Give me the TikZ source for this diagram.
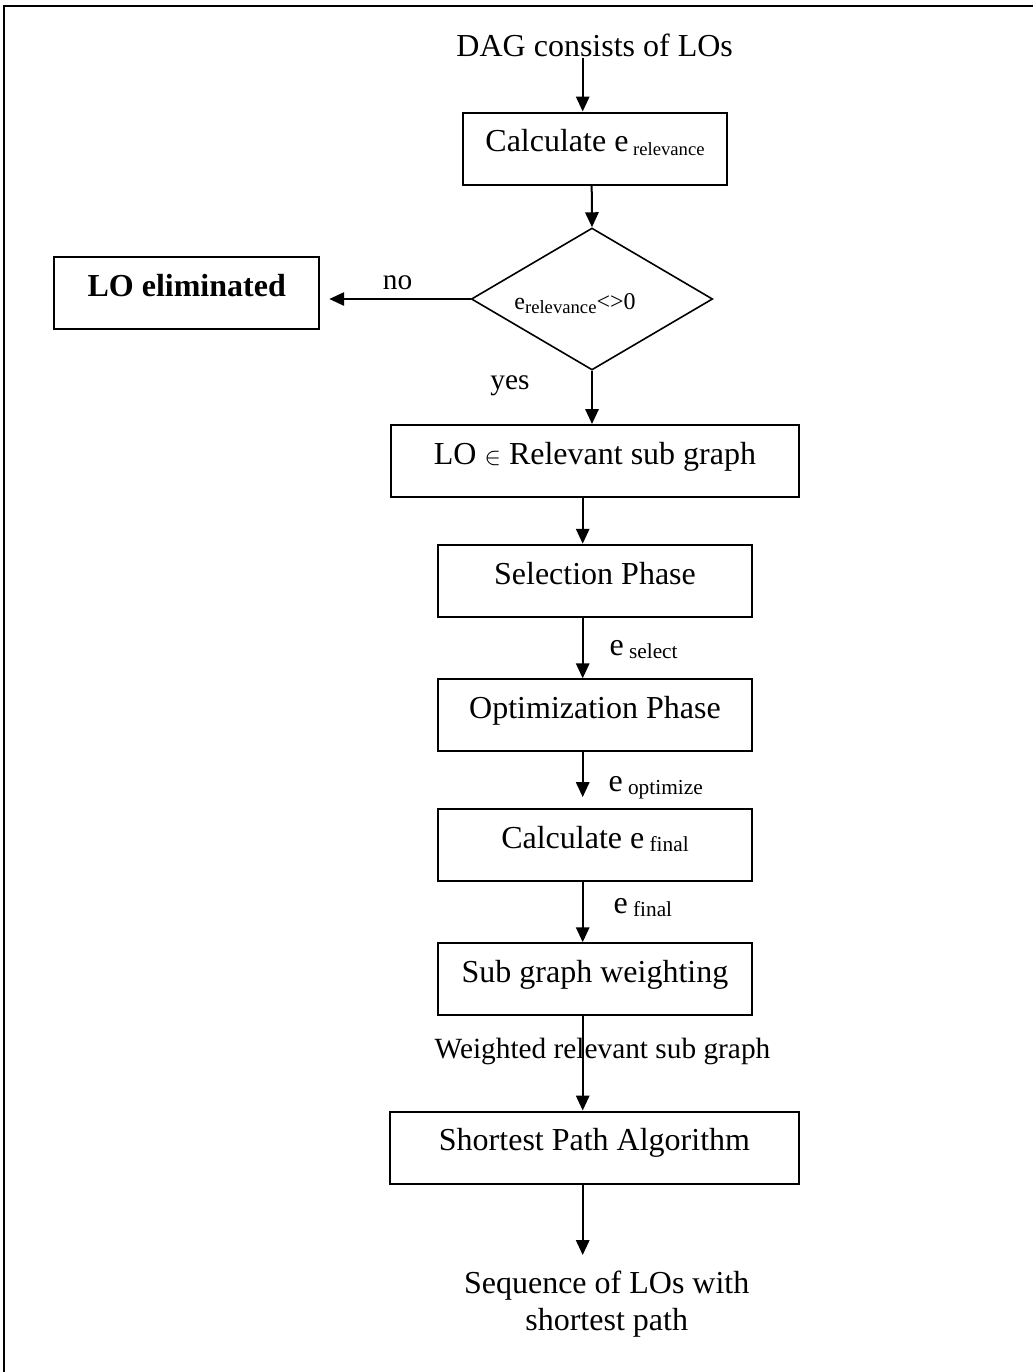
\documentclass[tikz,border=0pt]{standalone}
\usepackage{fontspec}
\setmainfont{Liberation Serif}
\usetikzlibrary{shapes.geometric,arrows.meta}
\newcommand{\mysub}[2]{\raisebox{-1.2pt}{\fontsize{#1}{#1}\selectfont\ #2}}
\begin{document}
\begin{tikzpicture}[x=0.375pt,y=-0.375pt,
  box/.style={draw,line width=0.75pt,inner sep=0pt,minimum height=27pt,text height=8pt,text depth=5.4pt,font=\fontsize{12}{14}\selectfont},
  arr/.style={line width=0.75pt,-{Triangle[length=5.6pt,width=5pt]}},
  lbl/.style={inner sep=0pt,font=\fontsize{12}{14}\selectfont},
  small/.style={inner sep=0pt,font=\fontsize{11}{11}\selectfont},
]
\useasboundingbox (0,0) rectangle (1033,1372);
\draw[line width=0.75pt] (1033,6) -- (4,6) -- (4,1372);

\node[lbl,anchor=base] (dag) at (594.7,56.7) {DAG consists of LOs};
\node[box,minimum width=99pt] (b1) at (595,148.5) {Calculate e\mysub{7}{relevance}};
\node[diamond,draw,line width=0.6pt,aspect=1.7,minimum width=90.5pt,minimum height=53.25pt,inner sep=0pt] (dia) at (592,299) {};
\node[inner sep=0pt,anchor=base] (dt) at (575,309) {\fontsize{9}{9}\selectfont e\raisebox{-1.5pt}{\fontsize{7}{7}\selectfont relevance}<>0};
\node[box,minimum width=99.4pt,font=\fontsize{12}{14}\selectfont\bfseries] (elim) at (186.7,292.6) {LO eliminated};
\node[small,anchor=base] (no) at (397.5,289) {no};
\node[small,anchor=base] (yes) at (510,389) {yes};
\node[box,minimum width=153pt] (rel) at (595,461) {LO {\fontsize{9}{9}\selectfont$\in$} Relevant sub graph};
\node[box,minimum width=117.4pt] (sel) at (595,580.7) {Selection Phase};
\node[box,minimum width=117.4pt] (opt) at (595,715.3) {Optimization Phase};
\node[box,minimum width=117.4pt] (cf) at (595,845) {Calculate e\mysub{8}{final}};
\node[box,minimum width=117.4pt] (sg) at (595,979.2) {Sub graph weighting};
\node[box,minimum width=153.4pt] (sp) at (594.5,1147.5) {Shortest Path Algorithm};

\node[lbl,anchor=base west] (esel) at (609,655) {e\mysub{8}{select}};
\node[lbl,anchor=base west] (eopt) at (608,791.7) {e\mysub{8}{optimize}};
\node[lbl,anchor=base west] (efin) at (613,913) {e\mysub{8}{final}};
\node[small,anchor=base] (wrs) at (602.5,1058) {Weighted relevant sub graph};
\node[lbl,anchor=base] (seqA) at (606.7,1293) {Sequence of LOs with};
\node[lbl,anchor=base] (seqB) at (606.7,1330) {shortest path};

\coordinate (colA) at (582.7,0);
\coordinate (colB) at (591.7,0);
\coordinate (endpt) at (582.7,1255);

\draw[arr] (dag.south -| colA) -- (b1.north -| colA);
\draw[arr] (b1.south -| colB) -- (dia.north);
\draw[arr,shorten >=3.4pt] (dia.west) -- (dia.west -| elim.east);
\draw[arr] (dia.south) -- (rel.north -| dia.south);
\draw[arr] (rel.south -| colA) -- (sel.north -| colA);
\draw[arr] (sel.south -| colA) -- (opt.north -| colA);
\draw[arr,shorten >=4.1pt] (opt.south -| colA) -- (cf.north -| colA);
\draw[arr] (cf.south -| colA) -- (sg.north -| colA);
\draw[arr] (sg.south -| colA) -- (sp.north -| colA);
\draw[arr] (sp.south -| colA) -- (endpt);
\end{tikzpicture}
\end{document}
